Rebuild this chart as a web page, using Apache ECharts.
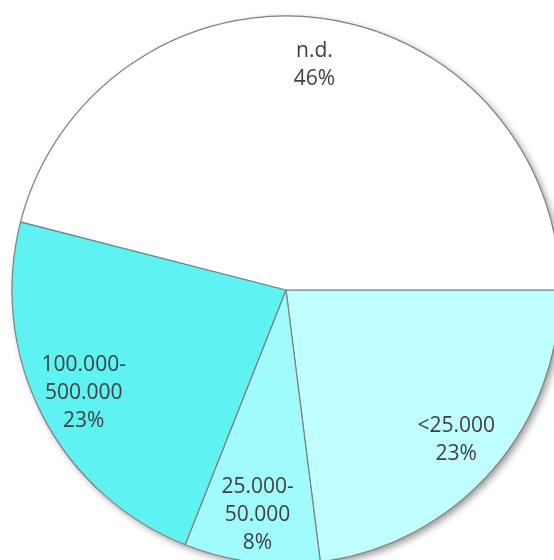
<!DOCTYPE html>
<html>
<head>
<meta charset="utf-8">
<style>
html,body{margin:0;padding:0;background:#fff;}
#chart{width:554px;height:560px;}
</style>
<script src="https://cdn.jsdelivr.net/npm/echarts@6/dist/echarts.min.js"></script>
</head>
<body>
<div id="chart"></div>
<script>
const categories = ['<25.000', '25.000-\n50.000', '100.000-\n500.000', 'n.d.'];
const values = [23, 8, 23, 46];
const colors = ['#C0FFFF', '#A0FCFC', '#5EF2F2', '#FFFFFF'];

const chart = echarts.init(document.getElementById('chart'), null, {renderer: 'canvas'});
const center = [286, 290];
const R = 274;

const sliceData = categories.map((c, i) => ({name: c, value: values[i], itemStyle: {color: colors[i]}}));
const labelData = categories.map((c, i) => ({name: c, value: values[i]}));
const total = values.reduce((a, b) => a + b, 0);

chart.setOption({
  animation: false,
  series: [
    {
      // whole-pie drop shadow
      type: 'pie',
      z: 1,
      center: center,
      radius: [0, R],
      silent: true,
      label: {show: false},
      labelLine: {show: false},
      itemStyle: {
        color: '#FFFFFF',
        borderWidth: 0,
        shadowColor: 'rgba(0,0,0,0.4)',
        shadowBlur: 7,
        shadowOffsetX: 3,
        shadowOffsetY: 3
      },
      data: [{name: 'shadow', value: total}]
    },
    {
      type: 'pie',
      z: 2,
      center: center,
      radius: [0, R],
      startAngle: 0,
      clockwise: true,
      silent: true,
      label: {show: false},
      labelLine: {show: false},
      itemStyle: {
        borderColor: '#7F7F7F',
        borderWidth: 1.2
      },
      data: sliceData
    },
    {
      type: 'pie',
      z: 3,
      center: center,
      radius: [174, R],
      startAngle: 0,
      clockwise: true,
      silent: true,
      itemStyle: {color: 'rgba(0,0,0,0)', borderWidth: 0},
      label: {
        show: true,
        position: 'inside',
        formatter: p => p.name + '\n' + p.value + '%',
        fontFamily: 'Open Sans',
        fontSize: 21,
        lineHeight: 28,
        color: '#404040',
        align: 'center'
      },
      labelLine: {show: false},
      data: labelData
    }
  ]
});
</script>
</body>
</html>
